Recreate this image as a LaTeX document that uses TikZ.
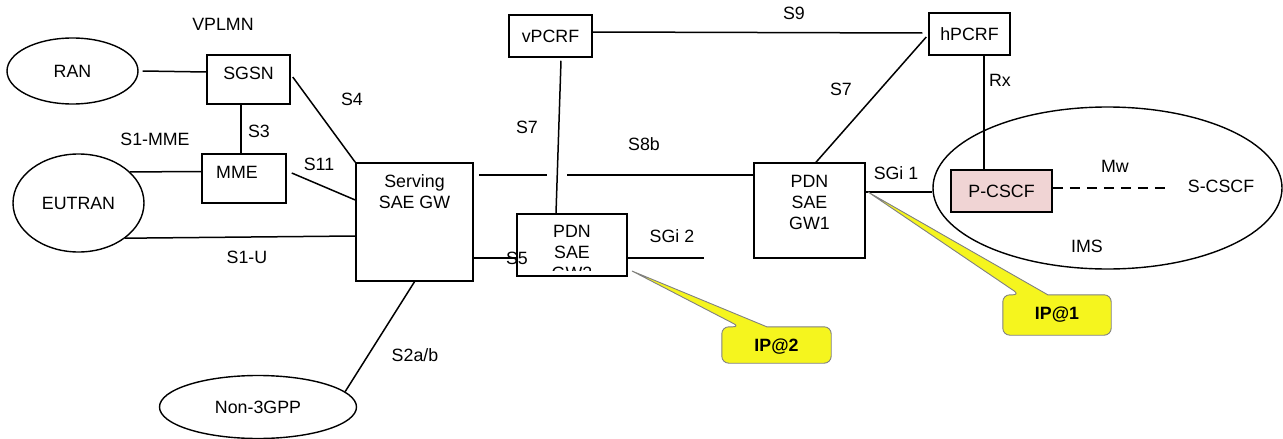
\documentclass[tikz,border=0pt]{standalone}
\usepackage{fontspec}
\setmainfont{Liberation Sans}
\usetikzlibrary{shapes.geometric}
\definecolor{ipyellow}{RGB}{245,245,30}
\definecolor{cscfpink}{RGB}{240,212,212}

\begin{document}
\begin{tikzpicture}[x=1pt,y=-1pt,font=\fontsize{17.8}{21}\selectfont,
  box/.style={draw,line width=1.5pt,inner sep=2pt,align=center},
  oval/.style={draw,ellipse,line width=1.4pt,inner sep=0pt},
  line/.style={line width=1.5pt},
  mw/.style={line width=2.2pt,dash pattern=on 10pt off 7pt},
  callout/.style={fill=ipyellow,draw=gray,line width=0.9pt},
  iptext/.style={font=\fontsize{17.8}{21}\selectfont\bfseries}]
\useasboundingbox (0,0) rectangle (1283,439);
% access side
\node[oval,minimum width=131pt,minimum height=66pt] (ran) at (72.5,71) {RAN};
\node[oval,minimum width=131pt,minimum height=98pt] (eutran) at (78.5,203) {EUTRAN};
\node[oval,minimum width=197pt,minimum height=63pt] (non3gpp) at (258,407) {Non-3GPP};
\node[box,minimum width=83pt,minimum height=49pt,label={[yshift=6.5pt]center:SGSN}] (sgsn) at (248.5,79.5) {};
\node[box,minimum width=84pt,minimum height=49pt,label={[xshift=-7pt,yshift=6.5pt]center:MME}] (mme) at (244,178.5) {};
\node[box,minimum width=117pt,minimum height=118pt,label={[align=center,anchor=north,yshift=-9pt]north:Serving\\SAE GW}] (sgw) at (414.5,222) {};
% core side
\node[box,minimum width=83pt,minimum height=42pt] (vpcrf) at (550.5,36) {vPCRF};
\node[box,minimum width=81pt,minimum height=42pt] (hpcrf) at (969.5,34) {hPCRF};
\node[box,minimum width=110pt,minimum height=62pt] (gw2) at (572,245) {};
\begin{scope}
\clip ([yshift=6pt]gw2.south west) rectangle (gw2.north east);
\node[align=center,anchor=north,yshift=-8pt] (gw2txt) at (gw2.north) {PDN\\SAE\\GW2};
\end{scope}
\node[box,minimum width=111pt,minimum height=95pt,label={[align=center,anchor=north,yshift=-9pt]north:PDN\\SAE\\GW1}] (gw1) at (809.5,210.5) {};
\node[oval,minimum width=349pt,minimum height=162pt] (ims) at (1107.5,188) {};
\node[box,minimum width=101pt,minimum height=42pt,fill=cscfpink] (pcscf) at (1001.5,191) {P-CSCF};
\node (scscf) at (1221,186) {S-CSCF};
% interface labels
\node (vplmn) at (223,24) {VPLMN};
\node (ls4) at (352,99) {S4};
\node (ls3) at (259,131) {S3};
\node (ls1mme) at (155,139) {S1-MME};
\node (ls11) at (319,164) {S11};
\node (ls1u) at (247,257) {S1-U};
\node (ls2) at (415,355) {S2a/b};
\node (ls7v) at (527,127) {S7};
\node (ls8b) at (644,144) {S8b};
\node (lsgi2) at (672,236) {SGi 2};
\node (ls9) at (794,13) {S9};
\node (ls7h) at (841,89) {S7};
\node (lrx) at (1000,80) {Rx};
\node (lsgi1) at (896,173) {SGi 1};
\node (lmw) at (1115,166) {Mw};
\node (lims) at (1087,246) {IMS};
% links
\coordinate (hopL) at (547,175);
\coordinate (hopR) at (567,175);
\coordinate (sgi2end) at (704,258);
\draw[line] ([xshift=4pt]ran.east) -- ([yshift=7.5pt]sgsn.west);
\draw[line] ([xshift=-7.5pt]sgsn.south) -- ([xshift=-3pt]mme.north);
\draw[line] (eutran.31) -- ([yshift=7pt]mme.west);
\draw[line] (eutran.-37) -- ([yshift=-14pt]sgw.west);
\draw[line] ([shift={(5pt,5.5pt)}]mme.east) -- ([yshift=22pt]sgw.west);
\draw[line] ([shift={(2pt,2.5pt)}]sgsn.east) -- (sgw.north west);
\draw[line] (sgw.south) -- (non3gpp.10);
\draw[line] ([yshift=-36pt]sgw.east) -- ([yshift=-13pt]gw2.west);
\node (ls5) at (517,258) {S5};
\draw[line] ([shift={(5pt,47pt)}]sgw.east) -- (hopL);
\draw[line] (hopR) -- ([yshift=35.5pt]gw1.west);
\draw[line] ([shift={(10.5pt,-3pt)}]vpcrf.south) -- ([xshift=-16pt]gw2.north);
\draw[line] ([yshift=4pt]vpcrf.east) -- ([shift={(-6pt,1pt)}]hpcrf.west);
\draw[line] ([xshift=6.5pt]gw1.north) -- ([shift={(-2pt,-3pt)}]hpcrf.west);
\draw[line] ([yshift=-13pt]gw2.east) -- (sgi2end);
\draw[line] ([yshift=18.5pt]gw1.east) -- ([yshift=-4pt]ims.west);
\draw[line] ([xshift=14.5pt]hpcrf.south) -- ([xshift=-17.5pt]pcscf.north);
\draw[mw] ([yshift=3pt]pcscf.east) -- ([shift={(-14pt,-2pt)}]scscf.west);
% address callouts
\node[minimum width=109pt,minimum height=36pt] (ip2) at (776.5,345) {};
\coordinate (tip2) at (632,271);
\draw[callout] ([xshift=18pt]ip2.north west) -- (tip2) -- ([xshift=45pt]ip2.north west) -- ([xshift=46pt]ip2.north west) [rounded corners=7pt] -- (ip2.north east) -- (ip2.south east) -- (ip2.south west) -- (ip2.north west) -- cycle;
\node[iptext] (ip2txt) at ([yshift=-2pt]ip2.center) {IP@2};
\node[minimum width=108pt,minimum height=40pt] (ip1) at (1057,315) {};
\coordinate (tip1) at (868,192);
\draw[callout] ([xshift=17pt]ip1.north west) -- (tip1) -- ([xshift=45pt]ip1.north west) -- ([xshift=46pt]ip1.north west) [rounded corners=7pt] -- (ip1.north east) -- (ip1.south east) -- (ip1.south west) -- (ip1.north west) -- cycle;
\node[iptext] (ip1txt) at (ip1.center) {IP@1};
\end{tikzpicture}
\end{document}
